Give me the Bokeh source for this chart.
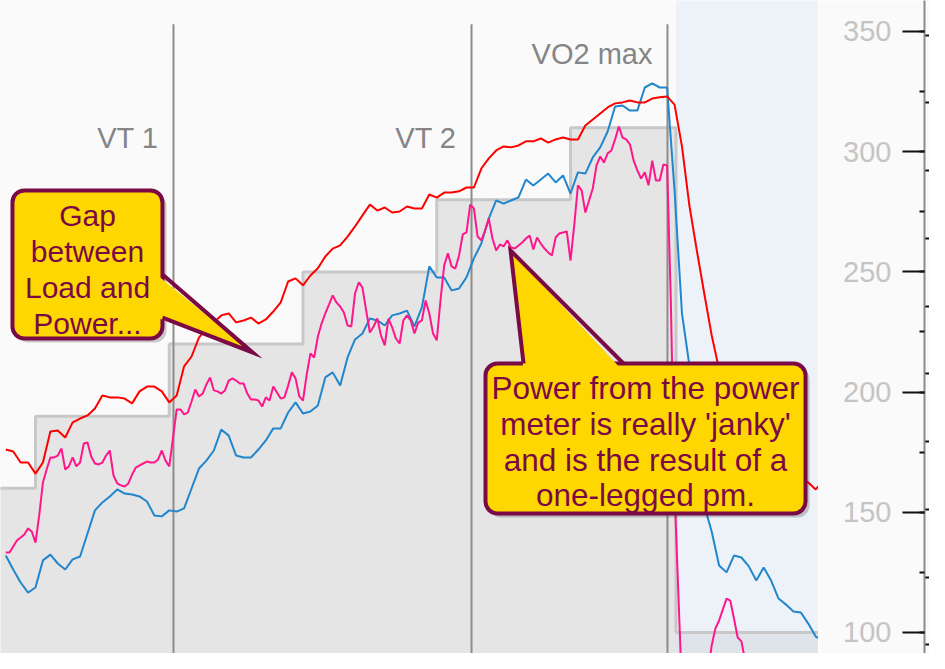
import numpy as np
from bokeh.plotting import figure
from bokeh.layouts import row
from bokeh.models import Range1d, LinearAxis, SingleIntervalTicker, FixedTicker
from bokeh.core.properties import value
from bokeh.embed import file_html
from bokeh.resources import INLINE

# ---------------- data (time in s from the 190 W step, values in W) ----------------
t_slow = np.arange(-40, 1061, 10)   # sample times of the red and blue traces
t_fast = np.arange(-40, 1061, 5)    # sample times of the power-meter trace

red = [
    176.1, 175.3, 170.7, 170.7, 166.1, 170.7, 183.6, 184.0, 181.1, 187.4,
    189.0, 190.3, 193.2, 198.6, 197.8, 197.8, 197.3, 195.3, 200.3, 202.3,
    202.3, 200.3, 195.7, 198.6, 210.7, 214.8, 222.7, 226.5, 229.0, 231.9,
    232.7, 229.0, 229.8, 231.0, 228.5, 230.2, 233.5, 237.3, 246.0, 247.3,
    244.4, 248.5, 251.5, 256.4, 259.7, 261.0, 264.7, 268.9, 273.5, 278.0,
    275.5, 276.8, 274.7, 275.1, 277.2, 276.4, 276.4, 282.2, 280.9, 283.0,
    283.0, 283.5, 285.1, 285.1, 293.0, 297.2, 300.5, 302.2, 301.8, 302.6,
    304.3, 304.3, 305.5, 303.8, 305.1, 305.9, 305.1, 305.1, 310.9, 313.4,
    315.9, 318.4, 320.1, 320.5, 321.3, 320.5, 320.5, 322.1, 322.6, 323.0,
    319.6, 302.2, 277.6, 258.9, 241.0, 223.6, 209.4, 200.7, 194.0, 189.0,
    184.0, 179.9, 176.5, 173.2, 170.7, 168.6, 166.6, 164.5, 162.4, 159.5,
    163.2,
]

blue = [
    132.0, 126.2, 120.8, 116.6, 118.7, 130.0, 132.4, 128.7, 126.2, 130.4,
    131.6, 141.2, 150.8, 154.1, 156.6, 159.5, 157.8, 157.4, 156.6, 154.5,
    148.7, 148.3, 150.8, 150.3, 151.6, 159.9, 168.2, 171.5, 175.7, 184.4,
    181.9, 173.6, 172.8, 172.8, 176.1, 179.9, 184.9, 184.9, 191.5, 195.7,
    191.1, 191.9, 194.4, 206.1, 208.2, 202.7, 214.4, 221.9, 224.4, 230.6,
    229.8, 227.7, 231.9, 232.7, 233.9, 227.3, 235.2, 252.3, 247.7, 247.7,
    242.3, 243.1, 247.7, 255.6, 261.8, 272.2, 279.7, 278.4, 279.7, 281.0,
    288.4, 285.9, 288.4, 290.9, 287.2, 290.1, 282.6, 291.4, 290.9, 297.6,
    301.8, 308.4, 318.8, 319.2, 317.1, 317.1, 326.7, 328.4, 326.7, 326.7,
    283.9, 232.7, 211.1, 184.0, 152.8, 142.0, 127.9, 125.0, 132.0, 131.2,
    127.5, 121.6, 127.0, 121.6, 114.1, 111.6, 108.7, 108.3, 103.7, 98.3,
    96.7,
]

pink = [
    133.3, 133.3, 135.8, 138.3, 139.5, 140.8, 143.3, 142.0, 137.4, 148.7,
    162.4, 167.8, 172.8, 172.8, 173.6, 176.5, 167.8, 169.1, 172.8, 169.1,
    170.7, 178.6, 179.0, 173.2, 170.3, 169.9, 170.7, 173.6, 175.7, 165.3,
    162.0, 161.2, 160.7, 162.0, 165.7, 168.6, 169.5, 170.3, 171.1, 170.7,
    170.7, 172.0, 175.7, 171.5, 169.1, 180.7, 192.8, 192.8, 190.7, 191.5,
    196.1, 201.1, 198.2, 199.4, 203.2, 206.1, 200.7, 200.3, 199.4, 200.7,
    204.8, 205.7, 204.8, 203.6, 203.6, 199.4, 196.9, 196.9, 196.5, 194.0,
    197.8, 196.5, 202.3, 199.8, 197.3, 197.8, 202.7, 208.2, 205.7, 198.2,
    196.5, 207.3, 216.1, 214.4, 223.1, 228.5, 232.7, 236.4, 240.2, 237.3,
    235.6, 233.1, 227.7, 227.3, 241.0, 245.6, 243.5, 234.0, 224.8, 227.3,
    230.6, 223.5, 219.4, 230.6, 226.9, 222.3, 220.2, 229.8, 231.9, 229.8,
    224.4, 228.9, 229.8, 238.1, 232.7, 224.4, 221.5, 238.1, 252.7, 257.7,
    252.3, 251.4, 256.8, 265.6, 266.4, 278.0, 276.4, 264.7, 263.1, 267.2,
    272.2, 263.9, 258.9, 261.4, 260.6, 263.1, 260.2, 259.7, 261.0, 262.2,
    263.9, 265.1, 259.3, 264.3, 261.8, 259.7, 258.1, 256.8, 264.3, 266.0,
    266.4, 266.8, 254.7, 269.3, 286.0, 283.9, 274.7, 279.7, 284.7, 294.3,
    298.0, 295.5, 299.3, 300.5, 305.1, 310.5, 305.9, 305.1, 303.0, 296.3,
    292.2, 288.8, 291.4, 286.0, 296.3, 288.0, 288.0, 294.7, 294.3, 238.1,
    159.1, 117.5, 75.9, 63.4, 59.2, 59.2, 63.4, 71.7, 78.0, 83.4,
    94.6, 101.7, 105.0, 109.6, 114.1, 113.3, 105.8, 97.9, 96.3, 88.4,
    80.0, 80.0, 86.3, 91.3, 88.4, 87.1, 80.0, 80.9, 85.0, 87.1,
    82.1, 80.0, 81.7, 85.0, 87.5, 85.0, 80.9, 80.0, 80.9, 82.1,
    82.1,
]

load_t = [-200, 0, 180, 360, 540, 720, 862, 1400]
load_w = [160, 190, 220, 250, 280, 310, 100, 100]

marker_t = [185.7, 586.8, 850.5]
marker_labels = ["VT 1", "VT 2", "VO2 max"]

aux_ticks = [80, 90, 100, 110, 120, 130, 140, 150, 160, 170]

callout_texts = [
    ["Gap", "between", "Load and", "Power..."],
    ["Power from the power", "meter is really 'janky'", "and is the result of a", "one-legged pm."],
]

# ---------------- layout / style ----------------
BG = "#fafafa"
X_LO, X_HI = -47.1, 1053.75
Y_LO, Y_HI = 91.26, 362.89
FONT = "Liberation Sans"
marker_top = 353.0
marker_label_y = [305.7, 305.7, 340.5]

callouts = [
    dict(box=(-31.0, 170.9, 283.9, 222.3),
         base=[(170.9, 248.9), (170.9, 231.0)], inner=[(162.8, 248.9), (162.8, 231.0)],
         tip=(292.0, 216.5), cx=70.0, ys=[273.4, 258.5, 243.5, 228.5], size="30px"),
    dict(box=(605.6, 1036.3, 211.9, 149.5),
         base=[(656.8, 211.9), (791.3, 211.9)], inner=[(656.8, 208.6), (791.3, 208.6)],
         tip=(639.3, 258.9), cx=820.9, ys=[201.9, 186.9, 171.9, 157.0], size="31.5px"),
]
CALLOUT_FILL = "#ffd700"
CALLOUT_LINE = "#7a0a46"

y_rng = Range1d(Y_LO, Y_HI)

p = figure(width=818, height=653, x_range=Range1d(X_LO, X_HI), y_range=y_rng,
           x_axis_location=None, y_axis_location=None, toolbar_location=None,
           output_backend="svg", outline_line_color=None,
           background_fill_color=BG, border_fill_color=BG,
           min_border_left=0, min_border_right=0, min_border_top=0, min_border_bottom=0)
p.grid.visible = False

# load steps
p.varea_step(x=load_t, y1=[0] * len(load_t), y2=load_w, step_mode="after",
             fill_color="#e5e5e5", fill_alpha=1.0)
# recovery band
p.quad(left=[load_t[-2]], right=[X_HI + 100], bottom=[Y_LO - 50], top=[Y_HI + 50],
       fill_color="#d0e1fa", fill_alpha=0.3, line_color=None)
p.step(x=load_t, y=load_w, mode="after", line_color="#c8c8c8", line_width=3)

# threshold markers
p.segment(x0=marker_t, y0=[Y_LO - 50] * 3, x1=marker_t, y1=[marker_top] * 3,
          line_color="#8c8c8c", line_width=2)
p.text(x=marker_t, y=marker_label_y, text=marker_labels, text_align="right",
       text_baseline="alphabetic", x_offset=-15, text_color="#858585",
       text_font=value(FONT), text_font_size=value("29px"))

# traces
p.line(t_slow, blue, line_color="#2186cc", line_width=2)
p.line(t_slow, red, line_color="#ff0000", line_width=2)
p.line(t_fast, pink, line_color="#ff168c", line_width=2)

# callouts
for c, lines in zip(callouts, callout_texts):
    l, r, t, b = c["box"]
    p.quad(left=[l + 5.4], right=[r + 5.4], top=[t - 1.66], bottom=[b - 1.66],
           fill_color="#000000", fill_alpha=0.2, line_color=None, border_radius=12)
    p.quad(left=[l], right=[r], top=[t], bottom=[b], fill_color=CALLOUT_FILL,
           line_color=CALLOUT_LINE, line_width=4, border_radius=12)
    (b1, b2), (i1, i2), tip = c["base"], c["inner"], c["tip"]
    p.patch([i1[0], tip[0], i2[0]], [i1[1], tip[1], i2[1]],
            fill_color=CALLOUT_FILL, line_color=None)
    p.line([b1[0], tip[0], b2[0]], [b1[1], tip[1], b2[1]], line_color=CALLOUT_LINE,
           line_width=4, line_join="miter")
    p.text(x=[c["cx"]] * len(lines), y=c["ys"], text=lines, text_align="center",
           text_baseline="alphabetic", text_color=CALLOUT_LINE,
           text_font=value(FONT), text_font_size=value(c["size"]))

# ---------------- axis panel ----------------
pb = figure(width=111, height=653, x_range=Range1d(0, 1), y_range=y_rng,
            x_axis_location=None, y_axis_location=None, toolbar_location=None,
            output_backend="svg", outline_line_color=None,
            background_fill_color=BG, border_fill_color=BG,
            min_border_left=106, min_border_right=0, min_border_top=0, min_border_bottom=0)
pb.grid.visible = False
pb.extra_y_ranges = {"aux": Range1d(78.71, 175.11)}

ax_aux = LinearAxis(y_range_name="aux",
                    ticker=FixedTicker(ticks=[], minor_ticks=aux_ticks),
                    major_tick_in=0, major_tick_out=0, minor_tick_in=5, minor_tick_out=0,
                    axis_line_color=None, major_label_standoff=0,
                    minor_tick_line_color="#111111", minor_tick_line_width=2)
pb.add_layout(ax_aux, "left")

ax = LinearAxis(ticker=SingleIntervalTicker(interval=50, num_minor_ticks=2),
                major_tick_in=0, major_tick_out=22, minor_tick_in=0, minor_tick_out=5,
                axis_line_color="#8a8a8a", axis_line_width=2,
                major_tick_line_color="#111111", major_tick_line_width=2,
                minor_tick_line_color="#111111", minor_tick_line_width=2,
                major_label_text_color="#c4c4c4", major_label_text_font=FONT,
                major_label_text_font_size="29px", major_label_standoff=11)
pb.add_layout(ax, "left")

layout = row(p, pb, spacing=0)
open("out.html", "w").write(file_html(layout, INLINE))
